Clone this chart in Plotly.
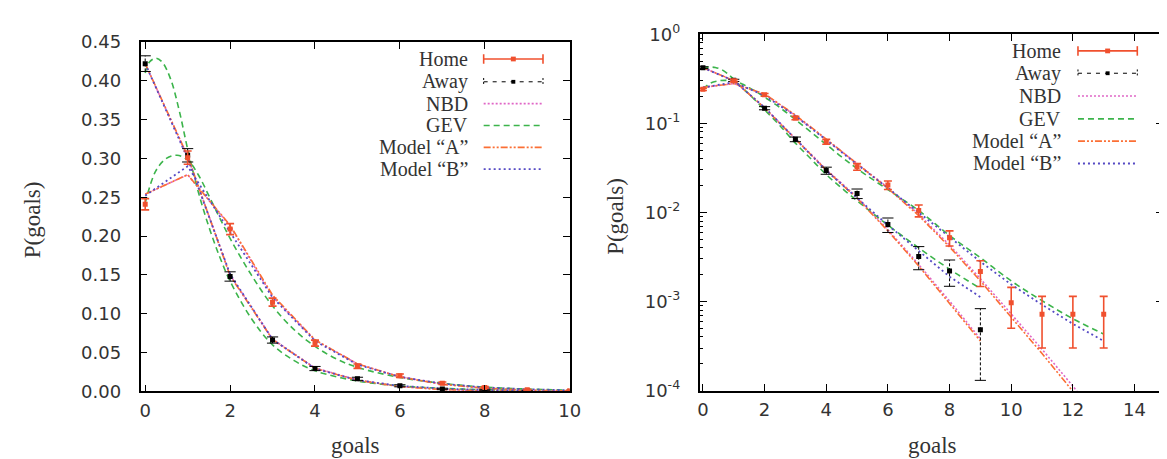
import plotly.graph_objects as go

# ---------------- data ----------------
goals_home = list(range(14))
home_p = [0.241, 0.301, 0.209, 0.115, 0.0622, 0.0325, 0.0203, 0.0105, 0.0052, 0.00217, 0.00097, 0.00072, 0.00072, 0.00072]
home_err = [0.0073, 0.0085, 0.0071, 0.0052, 0.0039, 0.0028, 0.0022, 0.0016, 0.0010, 0.0007, 0.00047, 0.00042, 0.00042, 0.00042]

goals_away = list(range(10))
away_p = [0.422, 0.304, 0.148, 0.0662, 0.0295, 0.0163, 0.0073, 0.0032, 0.0022, 0.00048]
away_err = [0.0101, 0.0086, 0.0060, 0.0040, 0.0027, 0.0020, 0.00135, 0.00093, 0.00072, 0.00035]

nbd_home = [0.254, 0.279, 0.213, 0.122, 0.0660, 0.0355, 0.0190, 0.0095, 0.0043, 0.00180, 0.00073, 0.00029, 0.000112, 0.000042]
modelA_home = [0.254, 0.279, 0.214, 0.124, 0.0665, 0.0355, 0.0186, 0.0092, 0.0041, 0.00170, 0.00067, 0.00026, 0.000098, 0.000036]
modelB_home = [0.252, 0.290, 0.205, 0.121, 0.0650, 0.0345, 0.0188, 0.0100, 0.0052, 0.0028, 0.00155, 0.00092, 0.00056, 0.00036]

nbd_away = [0.422, 0.302, 0.150, 0.0675, 0.0303, 0.0148, 0.0064, 0.0026, 0.00101, 0.00038]
modelA_away = [0.422, 0.303, 0.149, 0.0668, 0.0298, 0.0144, 0.0062, 0.0025, 0.00096, 0.00036]
modelB_away = [0.422, 0.300, 0.151, 0.0670, 0.0295, 0.0145, 0.0072, 0.0037, 0.0019, 0.00112]

gev_home_x = [0, 0.25, 0.5, 0.75, 1.0, 1.25, 1.5, 1.75, 2.0, 2.5, 3.0, 3.5, 4.0, 4.5, 5, 6, 7, 8, 9, 10, 11, 12, 13]
gev_home = [0.2425, 0.284, 0.300, 0.304, 0.298, 0.279, 0.252, 0.224, 0.197, 0.150, 0.110, 0.080, 0.058, 0.042,
            0.031, 0.0180, 0.0105, 0.0055, 0.0031, 0.0017, 0.00102, 0.00064, 0.00043]

gev_away_x = [0, 0.1, 0.25, 0.4, 0.6, 0.8, 1.0, 1.25, 1.5, 1.75, 2.0, 2.5, 3.0, 3.5, 4.0, 5, 6, 7, 8, 9]
gev_away = [0.410, 0.424, 0.429, 0.424, 0.402, 0.362, 0.312, 0.257, 0.212, 0.174, 0.142, 0.094, 0.060, 0.040,
            0.0266, 0.0135, 0.0072, 0.0040, 0.0023, 0.0014]

legend_labels = ["Home", "Away", "NBD", "GEV", "Model \u201cA\u201d", "Model \u201cB\u201d"]
lin_ticks = [0, 0.05, 0.10, 0.15, 0.20, 0.25, 0.30, 0.35, 0.40, 0.45]
log_ticks = [1e-4, 1e-3, 1e-2, 1e-1, 1]
log_ticktext = ["10<sup>-4</sup>", "10<sup>-3</sup>", "10<sup>-2</sup>", "10<sup>-1</sup>", "10<sup>0</sup>"]

# ---------------- styling ----------------
W, H = 1167, 459
HOME_C = "#f0502e"
AWAY_C = "#000000"
NBD_C = "#e066c6"
GEV_C = "#3cb44b"
A_C = "#fb6f35"
B_C = "#5549c4"
TXT = "#333333"
SERIF = "Liberation Serif"
SANS = "DejaVu Sans"

styles = {
    "NBD": dict(color=NBD_C, width=1.6, dash="2px,2px"),
    "GEV": dict(color=GEV_C, width=1.6, dash="6px,4px"),
    "A": dict(color=A_C, width=1.6, dash="7px,2px,2px,2px,2px,2px"),
    "B": dict(color=B_C, width=1.8, dash="2px,3px"),
}

fig = go.Figure()


def add_panel(xa, ya):
    # model curves
    fig.add_trace(go.Scatter(x=goals_home, y=nbd_home, mode="lines", line=styles["NBD"], xaxis=xa, yaxis=ya, showlegend=False))
    fig.add_trace(go.Scatter(x=goals_away, y=nbd_away, mode="lines", line=styles["NBD"], xaxis=xa, yaxis=ya, showlegend=False))
    fig.add_trace(go.Scatter(x=gev_home_x, y=gev_home, mode="lines", line=dict(styles["GEV"], shape="spline"), xaxis=xa, yaxis=ya, showlegend=False))
    fig.add_trace(go.Scatter(x=gev_away_x, y=gev_away, mode="lines", line=dict(styles["GEV"], shape="spline"), xaxis=xa, yaxis=ya, showlegend=False))
    fig.add_trace(go.Scatter(x=goals_home, y=modelA_home, mode="lines", line=styles["A"], xaxis=xa, yaxis=ya, showlegend=False))
    fig.add_trace(go.Scatter(x=goals_away, y=modelA_away, mode="lines", line=styles["A"], xaxis=xa, yaxis=ya, showlegend=False))
    fig.add_trace(go.Scatter(x=goals_home, y=modelB_home, mode="lines", line=styles["B"], xaxis=xa, yaxis=ya, showlegend=False))
    fig.add_trace(go.Scatter(x=goals_away, y=modelB_away, mode="lines", line=styles["B"], xaxis=xa, yaxis=ya, showlegend=False))

    # away data: dashed error bars
    ex, ey, cx, cy = [], [], [], []
    for g, p, e in zip(goals_away, away_p, away_err):
        ex += [g, g, None]
        ey += [p - e, p + e, None]
        cx += [g, g]
        cy += [p - e, p + e]
    fig.add_trace(go.Scatter(x=ex, y=ey, mode="lines", line=dict(color=AWAY_C, width=1, dash="3px,2px"),
                             xaxis=xa, yaxis=ya, showlegend=False, cliponaxis=False))
    fig.add_trace(go.Scatter(x=cx, y=cy, mode="markers",
                             marker=dict(symbol="line-ew", size=8, line=dict(color=AWAY_C, width=1)),
                             xaxis=xa, yaxis=ya, showlegend=False))
    fig.add_trace(go.Scatter(x=goals_away, y=away_p, mode="markers",
                             marker=dict(symbol="square", size=5, color=AWAY_C),
                             xaxis=xa, yaxis=ya, showlegend=False))
    # home data
    fig.add_trace(go.Scatter(x=goals_home, y=home_p, mode="markers",
                             marker=dict(symbol="square", size=5, color=HOME_C),
                             error_y=dict(type="data", array=home_err, color=HOME_C, thickness=1.6, width=4),
                             xaxis=xa, yaxis=ya, showlegend=False))


add_panel("x", "y")
add_panel("x2", "y2")

axis_common = dict(showline=True, linecolor="black", linewidth=1.5, mirror="ticks", ticks="inside",
                   showgrid=False, zeroline=False, tickcolor="black", tickwidth=1,
                   tickfont=dict(family=SANS, size=18, color=TXT))

fig.update_layout(
    width=W, height=H, margin=dict(l=0, r=0, t=0, b=0),
    paper_bgcolor="white", plot_bgcolor="white", showlegend=False,
    xaxis=dict(axis_common, domain=[132 / W, 566 / W], range=[-0.11, 10], tickvals=[0, 2, 4, 6, 8, 10],
               ticklen=7, anchor="y", ticklabelstandoff=2),
    yaxis=dict(axis_common, domain=[1 - 390 / H, 1 - 22 / H], range=[0, 0.45], tickvals=lin_ticks,
               tickformat=".2f", ticklen=7, anchor="x", ticklabelstandoff=14),
    xaxis2=dict(axis_common, domain=[697.3 / W, 1166.5 / W], range=[-0.11, 14.94],
                tickvals=[0, 2, 4, 6, 8, 10, 12, 14], ticklen=7, anchor="y2", ticklabelstandoff=2),
    yaxis2=dict(axis_common, type="log", domain=[1 - 389 / H, 1 - 14 / H], range=[-4, 0],
                tickvals=log_ticks, ticktext=log_ticktext, ticklen=8, anchor="x2", ticklabelstandoff=14,
                minor=dict(ticks="inside", ticklen=4, tickcolor="black", tickwidth=1,
                           tickvals=[m * 10 ** e for e in range(-4, 0) for m in range(2, 10)])),
)

# axis titles
ann = []
ttl_font = dict(family=SERIF, size=23, color=TXT)
for (tx, ty) in [(349, 447), (933, 447)]:
    ann.append(dict(text="goals", x=tx / W, y=1 - ty / H, xref="paper", yref="paper", showarrow=False,
                    xanchor="center", yanchor="middle", font=ttl_font))
for (tx, ty) in [(23, 209), (613, 206)]:
    ann.append(dict(text="P(goals)", x=tx / W, y=1 - ty / H, xref="paper", yref="paper", showarrow=False,
                    textangle=-90, xanchor="center", yanchor="middle", font=ttl_font))

# custom gnuplot-like keys
shapes = []
key_sets = [
    dict(text_right=465, s0=479, s1=539, rows=[40, 64, 87, 110, 133, 156]),
    dict(text_right=1065, s0=1080, s1=1140, rows=[31.5, 55, 79, 103, 126.5, 150]),
]


def X(px):
    return px / W


def Y(py):
    return 1 - py / H


for ks in key_sets:
    s0, s1 = ks["s0"], ks["s1"]
    mid = (s0 + s1) / 2
    for lab, r in zip(legend_labels, ks["rows"]):
        ann.append(dict(text=lab, x=X(ks["text_right"]), y=Y(r), xref="paper", yref="paper", showarrow=False,
                        xanchor="right", yanchor="middle", font=dict(family=SERIF, size=20, color=TXT)))
    r = ks["rows"]
    # Home
    shapes.append(dict(type="line", xref="paper", yref="paper", x0=X(s0), x1=X(s1), y0=Y(r[0]), y1=Y(r[0]),
                       line=dict(color=HOME_C, width=1.6)))
    for sx in (s0, s1):
        shapes.append(dict(type="line", xref="paper", yref="paper", x0=X(sx), x1=X(sx), y0=Y(r[0] - 5), y1=Y(r[0] + 5),
                           line=dict(color=HOME_C, width=1.6)))
    shapes.append(dict(type="rect", xref="paper", yref="paper", x0=X(mid - 2.5), x1=X(mid + 2.5),
                       y0=Y(r[0] - 2.5), y1=Y(r[0] + 2.5), fillcolor=HOME_C, line=dict(width=0)))
    # Away
    shapes.append(dict(type="line", xref="paper", yref="paper", x0=X(s0), x1=X(s1), y0=Y(r[1]), y1=Y(r[1]),
                       line=dict(color=AWAY_C, width=1, dash="4px,5px")))
    for sx in (s0, s1):
        shapes.append(dict(type="line", xref="paper", yref="paper", x0=X(sx), x1=X(sx), y0=Y(r[1] - 4), y1=Y(r[1] + 4),
                           line=dict(color=AWAY_C, width=1, dash="2px,2px")))
    shapes.append(dict(type="rect", xref="paper", yref="paper", x0=X(mid - 2), x1=X(mid + 2),
                       y0=Y(r[1] - 2), y1=Y(r[1] + 2), fillcolor=AWAY_C, line=dict(width=0)))
    # model keys
    for key, rr in zip(["NBD", "GEV", "A", "B"], r[2:]):
        st = styles[key]
        shapes.append(dict(type="line", xref="paper", yref="paper", x0=X(s0), x1=X(s1), y0=Y(rr), y1=Y(rr),
                           line=dict(color=st["color"], width=st["width"], dash=st["dash"])))

fig.update_layout(annotations=ann, shapes=shapes)
fig.write_html("out.html")
